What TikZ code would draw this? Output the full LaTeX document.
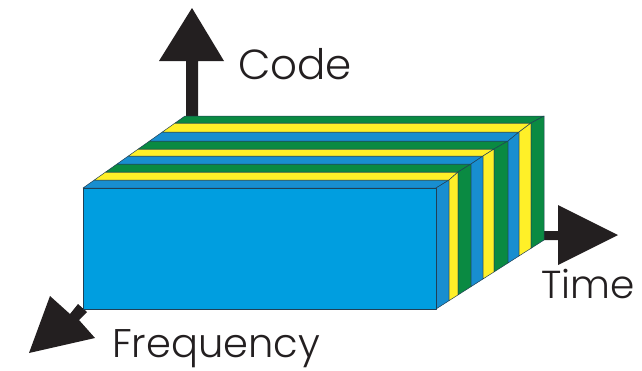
\documentclass[tikz,border=0pt]{standalone}
\usepackage{fontspec}
\setmainfont{Poppins Light}
\definecolor{frontblue}{RGB}{0,158,224}
\definecolor{stripblue}{RGB}{24,142,208}
\definecolor{stripgreen}{RGB}{10,138,66}
\definecolor{stripyellow}{RGB}{255,240,40}
\definecolor{inkdark}{RGB}{35,31,32}
\tikzset{
  strip/.style={draw=inkdark!70!stripblue,line width=0.5pt,line join=round},
  axis/.style={fill=inkdark,draw=none},
  axislabel/.style={inner sep=0pt,text=inkdark,anchor=base west}
}
\begin{document}
\begin{tikzpicture}[x=1pt,y=-1pt]
\useasboundingbox (0,0) rectangle (642,370);
% axes behind the block
\fill[axis] (186,118) -- (186,61) -- (159,61) -- (192,8) -- (224,61) -- (198,61) -- (198,118) -- cycle;
\fill[axis] (542,231) -- (558,231) -- (558,205) -- (618,235) -- (558,265) -- (558,240) -- (542,240) -- cycle;
\fill[axis] (50,296) -- (70,314) -- (78,304) -- (87,312) -- (79,320) -- (95,338) -- (29,353) -- cycle;
% strips: top face, then side face; front to back
\foreach \ya/\yb/\xa/\xb/\c in {
  188/180/436/449/stripblue,
  180/172/449/458/stripyellow,
  172/164/458/471/stripgreen,
  164/156/471/483/stripblue,
  156/149/483/494/stripyellow,
  149/141/494/508/stripgreen,
  141/132/508/519/stripblue,
  132/123/519/531/stripyellow,
  123/116/531/544/stripgreen}{
  \pgfmathsetmacro{\la}{83+(188-\ya)*102/72}
  \pgfmathsetmacro{\lb}{83+(188-\yb)*102/72}
  \pgfmathsetmacro{\ba}{309-(\xa-436)*69/108}
  \pgfmathsetmacro{\bb}{309-(\xb-436)*69/108}
  \filldraw[strip,fill=\c] (\la,\ya) -- (\lb,\yb) -- (\xb,\yb) -- (\xa,\ya) -- cycle;
  \filldraw[strip,fill=\c] (\xa,\ya) -- (\xb,\yb) -- (\xb,\bb) -- (\xa,\ba) -- cycle;
}
\filldraw[strip,fill=frontblue] (83,188) rectangle (436,309);
\node[axislabel,font=\fontsize{42}{42}\selectfont] (code) at (238,79) {Code};
\node[axislabel,font=\fontsize{39}{39}\selectfont] (time) at (541,298) {Time};
\node[axislabel,font=\fontsize{40}{40}\selectfont] (frequency) at (112,357) {Frequency};
\end{tikzpicture}
\end{document}
